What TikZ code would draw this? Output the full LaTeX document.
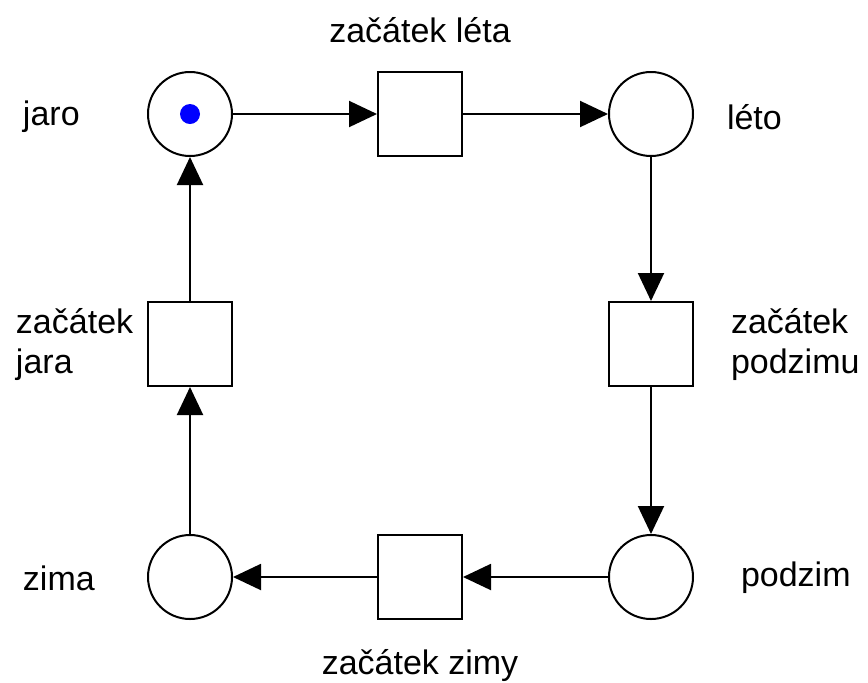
\documentclass[tikz,border=0pt]{standalone}
\usepackage{fontspec}
\setmainfont{Liberation Sans}
\usetikzlibrary{arrows.meta}

\begin{document}
\begin{tikzpicture}[x=0.5pt,y=-0.5pt,line width=1pt,>={Triangle[length=14pt,width=13pt]},
  place/.style={draw,circle,minimum size=42pt,inner sep=0pt},
  transition/.style={draw,rectangle,minimum size=42pt,inner sep=0pt},
  lbl/.style={font=\fontsize{17}{20}\selectfont,inner sep=0pt}]

\useasboundingbox (0,0) rectangle (868,682);

% places
\node[place] (jaro) at (190,114) {};
\node[place] (leto) at (651,114) {};
\node[place] (podzim) at (651,577) {};
\node[place] (zima) at (190,577) {};

% token
\fill[color=blue] (jaro) circle (5pt);

% transitions
\node[transition] (tleto) at (420,114) {};
\node[transition] (tpodzim) at (651,344) {};
\node[transition] (tzima) at (420,577) {};
\node[transition] (tjaro) at (190,344) {};

% arcs
\draw[->] (jaro) -- (tleto);
\draw[->] (tleto) -- (leto);
\draw[->] (leto) -- (tpodzim);
\draw[->] (tpodzim) -- (podzim);
\draw[->] (podzim) -- (tzima);
\draw[->] (tzima) -- (zima);
\draw[->] (zima) -- (tjaro);
\draw[->] (tjaro) -- (jaro);

% labels
\node[lbl,anchor=west] (ljaro) at (22,117) {jaro};
\node[lbl,anchor=west] (lleto) at (726,117) {léto};
\node[lbl,anchor=west] (lpodzim) at (740,578) {podzim};
\node[lbl,anchor=west] (lzima) at (22,578) {zima};
\node[lbl] (ltleto) at (420,30) {začátek léta};
\node[lbl] (ltzima) at (420,665) {začátek zimy};
\node[lbl,anchor=west,align=left] (ltjaro) at (15,344) {začátek\\jara};
\node[lbl,anchor=west,align=left] (ltpodzim) at (730,344) {začátek\\podzimu};

\end{tikzpicture}
\end{document}
